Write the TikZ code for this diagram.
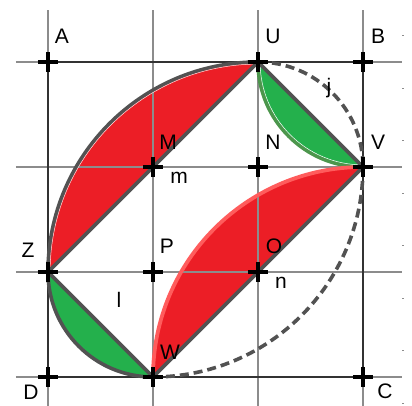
\documentclass[tikz,border=0pt]{standalone}
\usepackage{fontspec}
\setmainfont{Liberation Sans}
\usetikzlibrary{calc}
\begin{document}
\begin{tikzpicture}[x=105pt,y=105pt,
  gridline/.style={draw=black!45,line width=1.1pt},
  sqedge/.style={draw=black!80,line width=2.6pt},
  outline/.style={draw=black!68,line width=3.6pt},
  dashedarc/.style={draw=black!68,line width=3.6pt,dash pattern=on 9pt off 5pt},
  crossmark/.style={draw=black,line width=3.8pt},
  lbl/.style={inner sep=0pt,font=\fontsize{21}{21}\selectfont},
  tick/.style={draw=black!45,line width=0.8pt}]
\definecolor{ggred}{RGB}{236,30,38}
\definecolor{gggreen}{RGB}{36,176,76}
\definecolor{ggdkgreen}{RGB}{76,150,76}
\definecolor{gglightred}{RGB}{255,92,92}
\useasboundingbox (-0.45714,-0.27619) rectangle (3.46667,3.59048);
% points
\coordinate (D) at (0,0); \coordinate (W) at (1,0); \coordinate (C) at (3,0);
\coordinate (Z) at (0,1); \coordinate (P) at (1,1); \coordinate (n) at (2,1);
\coordinate (M) at (1,2); \coordinate (N) at (2,2); \coordinate (V) at (3,2);
\coordinate (A) at (0,3); \coordinate (U) at (2,3); \coordinate (B) at (3,3);
% fills
\fill[ggred] (U) arc[start angle=90,end angle=180,radius=2] -- cycle;
\fill[gggreen] (Z) arc[start angle=180,end angle=270,radius=1] -- cycle;
\fill[gggreen] (U) arc[start angle=180,end angle=270,radius=1] -- cycle;
\fill[ggred] (W) arc[start angle=180,end angle=90,radius=2] -- cycle;
% grid
\foreach \g in {0,1,2,3}{
  \draw[gridline] (\g,3.495) -- (\g,-0.28);
  \draw[gridline] (-0.305,\g) -- (3.371,\g);
}
\foreach \t in {-0.25,0.25,0.75,1.25,1.75,2.25,2.75,3.25}{
  \draw[tick] (3.376,\t) -- (3.39,\t);
}
% square
\draw[sqedge] (A) -- (B) -- (C) -- (D) -- cycle;
% outlines
\draw[outline] (U) arc[start angle=90,end angle=180,radius=2];
\draw[draw=red!12,line width=0.5pt] (n) ++(90:1.98) arc[start angle=90,end angle=180,radius=1.98];
\draw[outline] (Z) arc[start angle=180,end angle=270,radius=1];
\draw[draw=ggdkgreen,line width=3.6pt] (U) arc[start angle=180,end angle=270,radius=1];
\draw[draw=white,line width=0.5pt] (B) ++(180:0.98) arc[start angle=180,end angle=270,radius=0.98];
\draw[draw=gglightred,line width=3.8pt] (W) arc[start angle=180,end angle=90,radius=2];
\draw[outline] (U) -- (Z);
\draw[outline] (Z) -- (W);
\draw[outline] (U) -- (V);
\draw[outline] (W) -- (V);
% dashed arcs
\draw[dashedarc] (U) arc[start angle=90,end angle=0,radius=1];
\draw[dashedarc] (V) arc[start angle=0,end angle=-90,radius=2];
% crosses
\foreach \p in {A,U,B,M,N,V,Z,P,n,W,D,C}{
  \draw[crossmark] ($(\p)+(-10pt,0)$) -- ($(\p)+(10pt,0)$);
  \draw[crossmark] ($(\p)+(0,-10pt)$) -- ($(\p)+(0,10pt)$);
}
% labels
\node[lbl] (lA) at (0.133,3.248) {A};
\node[lbl] (lU) at (2.143,3.248) {U};
\node[lbl] (lB) at (3.143,3.248) {B};
\node[lbl] (lM) at (1.143,2.238) {M};
\node[lbl] (lm) at (1.248,1.895) {m};
\node[lbl] (lN) at (2.143,2.238) {N};
\node[lbl] (lV) at (3.143,2.238) {V};
\node[lbl] (lj) at (2.676,2.752) {j};
\node[lbl] (lZ) at (-0.190,1.210) {Z};
\node[lbl] (lP) at (1.133,1.248) {P};
\node[lbl] (ll) at (0.676,0.733) {l};
\node[lbl] (lW) at (1.162,0.238) {W};
\node[lbl] (lD) at (-0.162,-0.143) {D};
\node[lbl] (lO) at (2.152,1.248) {O};
\node[lbl] (ln) at (2.219,0.895) {n};
\node[lbl] (lC) at (3.210,-0.133) {C};
\end{tikzpicture}
\end{document}
